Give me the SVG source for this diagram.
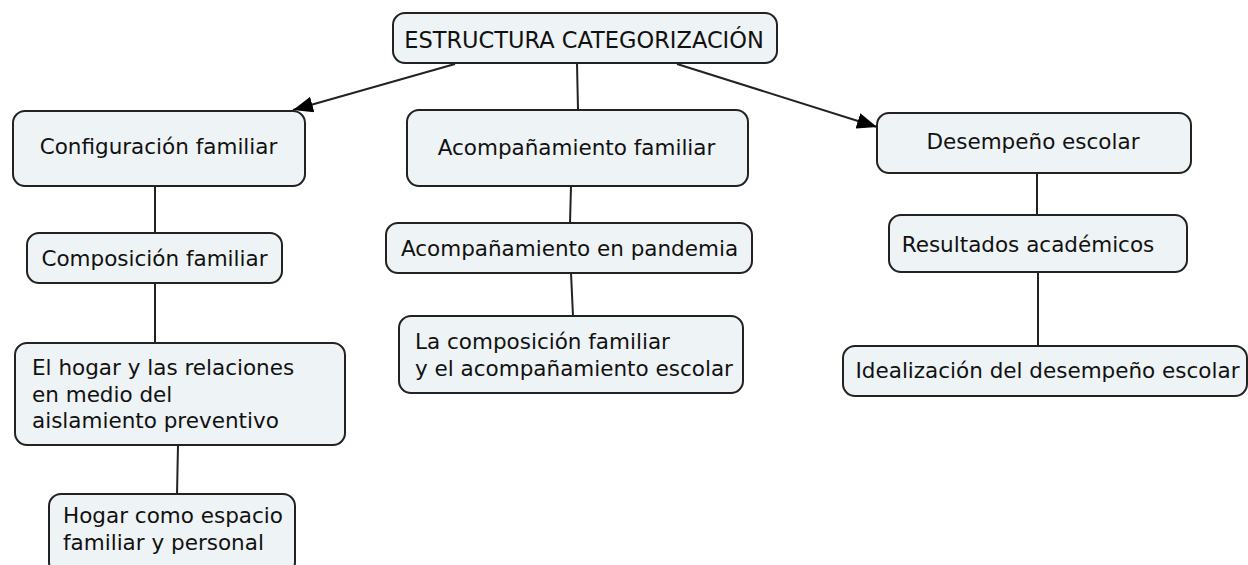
<svg xmlns="http://www.w3.org/2000/svg" width="1248" height="565" viewBox="0 0 1248 565">
<defs>
<marker id="arr" viewBox="0 0 20 16" refX="20" refY="8" markerWidth="20" markerHeight="16" markerUnits="userSpaceOnUse" orient="auto">
<path d="M0,0 L20,8 L0,16 Z" fill="#000"/>
</marker>
<style>
.box{fill:#eef3f5;stroke:#222;stroke-width:2}
.t{font-family:"DejaVu Sans",Verdana,sans-serif;font-size:21.5px;fill:#111}
.big{font-size:22.5px}
.c{text-anchor:middle}
.ln{stroke:#222;stroke-width:2;fill:none}
</style>
</defs>
<rect width="1248" height="565" fill="#fff"/>
<g id="connectors">
<line class="ln" x1="455" y1="64" x2="293" y2="110" marker-end="url(#arr)"/>
<line class="ln" x1="677" y1="64" x2="877" y2="127" marker-end="url(#arr)"/>
<line class="ln" x1="577" y1="63" x2="578" y2="110"/>
<line class="ln" x1="155" y1="186" x2="155" y2="233"/>
<line class="ln" x1="155" y1="283" x2="155" y2="343"/>
<line class="ln" x1="178" y1="445" x2="177" y2="494"/>
<line class="ln" x1="571" y1="186" x2="570" y2="223"/>
<line class="ln" x1="571" y1="273" x2="573" y2="316"/>
<line class="ln" x1="1037" y1="173" x2="1037" y2="215"/>
<line class="ln" x1="1038" y1="272" x2="1038" y2="346"/>
</g>
<g id="root">
<rect class="box" x="393" y="13" width="384" height="50" rx="12"/>
<text class="t big c" x="584" y="48">ESTRUCTURA CATEGORIZACIÓN</text>
</g>
<g id="configuracion">
<rect class="box" x="13" y="111" width="292" height="75" rx="12"/>
<text class="t c" x="158.5" y="154">Configuración familiar</text>
</g>
<g id="acompanamiento">
<rect class="box" x="407" y="110" width="341" height="76" rx="12"/>
<text class="t c" x="576.5" y="155">Acompañamiento familiar</text>
</g>
<g id="desempeno">
<rect class="box" x="877" y="113" width="314" height="60" rx="12"/>
<text class="t c" x="1033" y="149">Desempeño escolar</text>
</g>
<g id="composicion">
<rect class="box" x="27" y="233" width="255" height="50" rx="12"/>
<text class="t c" x="154.5" y="266">Composición familiar</text>
</g>
<g id="hogar-relaciones">
<rect class="box" x="15" y="343" width="330" height="102" rx="12"/>
<text class="t" x="32" y="375">El hogar y las relaciones</text>
<text class="t" x="32" y="402">en medio del</text>
<text class="t" x="32" y="428">aislamiento preventivo</text>
</g>
<g id="hogar-espacio">
<rect class="box" x="49" y="494" width="246" height="80" rx="12"/>
<text class="t" x="63" y="523">Hogar como espacio</text>
<text class="t" x="63" y="550">familiar y personal</text>
</g>
<g id="pandemia">
<rect class="box" x="386" y="223" width="366" height="50" rx="12"/>
<text class="t c" x="569.5" y="256">Acompañamiento en pandemia</text>
</g>
<g id="composicion-acompanamiento">
<rect class="box" x="399" y="316" width="344" height="77" rx="12"/>
<text class="t" x="415" y="349">La composición familiar</text>
<text class="t" x="415" y="376">y el acompañamiento escolar</text>
</g>
<g id="resultados">
<rect class="box" x="889" y="215" width="298" height="57" rx="12"/>
<text class="t c" x="1028" y="252">Resultados académicos</text>
</g>
<g id="idealizacion">
<rect class="box" x="843" y="346" width="404" height="50" rx="12"/>
<text class="t c" x="1047.5" y="378">Idealización del desempeño escolar</text>
</g>
</svg>
